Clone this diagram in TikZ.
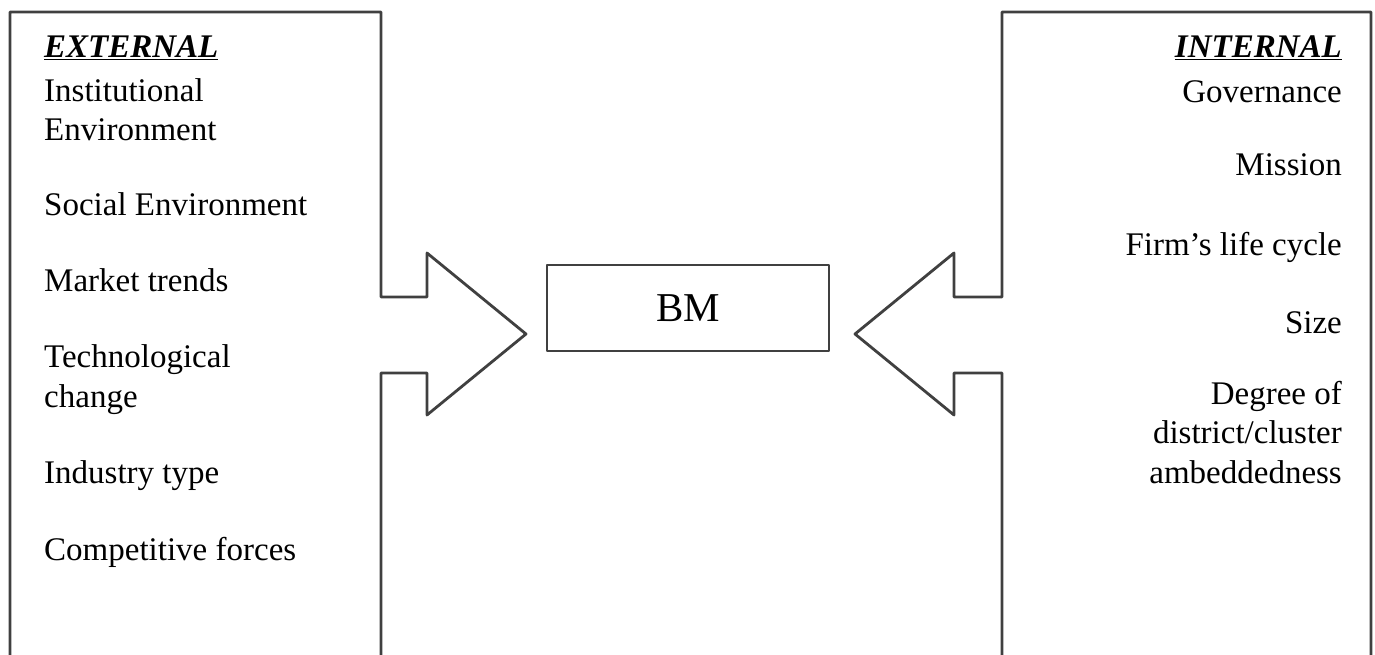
\documentclass[tikz,border=0pt]{standalone}
\usepackage{fontspec}
\setmainfont{Liberation Serif}
\begin{document}
\begin{tikzpicture}[x=1pt,y=-1pt,
  frame/.style={draw=black!75,line width=2.8pt,line join=round,line cap=round},
  item/.style={inner sep=0pt,font=\fontsize{33}{39.5}\selectfont},
  leftitem/.style={item,anchor=base west,align=left},
  rightitem/.style={item,anchor=base east,align=right},
  heading/.style={item,font=\fontsize{33}{39}\selectfont\bfseries\itshape},
  core/.style={frame,minimum width=282pt,minimum height=86pt,inner sep=0pt,
    font=\fontsize{41}{48}\selectfont}]
\useasboundingbox (0,0) rectangle (1375,655);

% external factors: open frame with an arrow pointing at the model
\draw[frame] (10,662) -- (10,12) -- (381,12) -- (381,297) -- (427,297)
  -- (427,253) -- (526,334) -- (427,415) -- (427,373) -- (381,373) -- (381,662);

% internal factors: mirrored frame
\draw[frame] (1371,662) -- (1371,12) -- (1002,12) -- (1002,297) -- (954,297)
  -- (954,253) -- (855,334) -- (954,415) -- (954,373) -- (1002,373) -- (1002,662);

% business model
\node[core] (bm) at (688,308) {BM};

% external list (multi-line entries are placed by their last baseline)
\node[heading,anchor=base west] (ext) at (44,58) {\underline{EXTERNAL}};
\node[leftitem] (inst) at (44,141) {Institutional\\Environment};
\node[leftitem] (soc) at (44,215) {Social Environment};
\node[leftitem] (mkt) at (44,291) {Market trends};
\node[leftitem] (tech) at (44,407) {Technological\\change};
\node[leftitem] (ind) at (44,483) {Industry type};
\node[leftitem] (comp) at (44,560) {Competitive forces};

% internal list
\node[heading,anchor=base east] (int) at (1342,58) {\underline{INTERNAL}};
\node[rightitem] (gov) at (1342,103) {Governance};
\node[rightitem] (mis) at (1342,176) {Mission};
\node[rightitem] (life) at (1342,255) {Firm’s life cycle};
\node[rightitem] (size) at (1342,333) {Size};
\node[rightitem] (deg) at (1342,483) {Degree of\\district/cluster\\ambeddedness};
\end{tikzpicture}
\end{document}
